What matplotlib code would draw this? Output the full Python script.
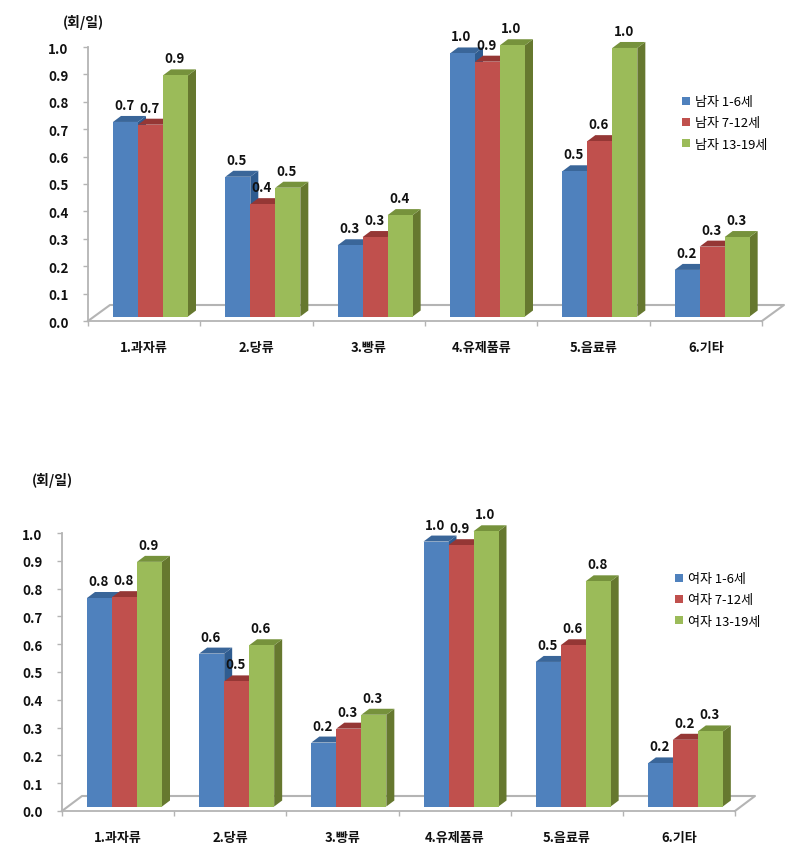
import matplotlib
matplotlib.use("Agg")
import matplotlib.pyplot as plt
from matplotlib.patches import Polygon, Patch

plt.rcParams['font.family'] = ['Noto Sans CJK KR', 'DejaVu Sans']

categories = ['1.과자류', '2.당류', '3.빵류', '4.유제품류', '5.음료류', '6.기타']
yticks = [0.0, 0.1, 0.2, 0.3, 0.4, 0.5, 0.6, 0.7, 0.8, 0.9, 1.0]
unit = '(회/일)'

male_labels = ['남자 1-6세', '남자 7-12세', '남자 13-19세']
male_young = [0.71, 0.51, 0.26, 0.96, 0.53, 0.17]
male_mid = [0.70, 0.41, 0.29, 0.93, 0.64, 0.255]
male_old = [0.88, 0.47, 0.37, 0.99, 0.98, 0.29]

female_labels = ['여자 1-6세', '여자 7-12세', '여자 13-19세']
female_young = [0.75, 0.55, 0.23, 0.953, 0.52, 0.155]
female_mid = [0.753, 0.45, 0.28, 0.94, 0.58, 0.24]
female_old = [0.88, 0.58, 0.33, 0.99, 0.81, 0.27]

front = ['#4F81BD', '#C0504D', '#9BBB59']
top_c = ['#3A6699', '#953735', '#76923C']
side_c = ['#2F5C90', '#8A3330', '#66782F']
GRID = '#B4B4B4'
W, H = 796, 853
fig = plt.figure(figsize=(W / 100, H / 100), dpi=100, facecolor='white')


def chart(left, right, y_top, y_zero, base_px, floor_dx, floor_dy, series, labels,
          legend_xy, unit_xy):
    ax = fig.add_axes([left / W, 1 - y_zero / H, (right - left) / W, (y_zero - y_top) / H])
    ax.set_xlim(0, 6)
    ax.set_ylim(0, 1)
    ax.patch.set_alpha(0)
    sx = 6 / (right - left)      # data units per pixel
    sy = 1 / (y_zero - y_top)
    base = base_px * sy
    bw = 25 * sx
    x0 = 25 * sx
    dx, dy = 8 * sx, 6 * sy

    # floor of the 3D plane
    fx, fy = floor_dx * sx, floor_dy * sy
    ax.plot([0, fx, 6 + fx, 6], [0, fy, fy, 0], color=GRID, lw=1.5, clip_on=False, zorder=1)

    handles = []
    for s, vals in enumerate(series):
        for i, v in enumerate(vals):
            xl = i + x0 + s * bw
            xr = xl + bw
            top = base + v
            z = 3 + s
            ax.add_patch(Polygon([(xr, base), (xr + dx, base + dy), (xr + dx, top + dy), (xr, top)],
                                 closed=True, fc=side_c[s], ec='none', clip_on=False, zorder=z))
            ax.add_patch(Polygon([(xl, top), (xl + dx, top + dy), (xr + dx, top + dy), (xr, top)],
                                 closed=True, fc=top_c[s], ec='none', clip_on=False, zorder=z))
            ax.bar(xl, v, bw, bottom=base, align='edge', color=front[s], zorder=z + 0.5, clip_on=False)
            ax.text(xl + bw / 2 - sx, top + 17 * sy, f'{v:.1f}', ha='center', va='center',
                    fontsize=9.6, fontweight='bold', color='#111111', zorder=10, clip_on=False)
        handles.append(Patch(fc=front[s], ec='none', label=labels[s]))

    for sp in ('top', 'right'):
        ax.spines[sp].set_visible(False)
    for sp in ('left', 'bottom'):
        ax.spines[sp].set_color(GRID)
        ax.spines[sp].set_linewidth(1.3)
    ax.set_yticks(yticks)
    ax.set_yticklabels([f'{t:.1f}' for t in yticks], fontsize=9.6, fontweight='bold', color='#111111')
    ax.tick_params(axis='y', length=3.6, width=1, color=GRID, pad=10.5)
    ax.set_xticks(range(7))
    ax.set_xticklabels([''] * 7)
    ax.tick_params(axis='x', length=3.6, width=1, color=GRID)
    for i, c in enumerate(categories):
        ax.text(i + 0.5, -26 * sy, c, ha='center', va='center', fontsize=9.4, fontweight='bold',
                color='#111111', clip_on=False)

    ax.legend(handles=handles, loc='center left',
              bbox_to_anchor=(legend_xy[0] / W, 1 - legend_xy[1] / H), bbox_transform=fig.transFigure,
              frameon=False, fontsize=9.4, handlelength=0.6, handleheight=0.6, handletextpad=0.4,
              labelspacing=0.62, borderpad=0, borderaxespad=0)
    fig.text(unit_xy[0] / W, 1 - unit_xy[1] / H, unit, ha='center', va='center', fontsize=10,
             fontweight='bold', color='#111111')


chart(88, 762, 48, 322, 4.5, 22, 16, [male_young, male_mid, male_old], male_labels, (682, 124), (83, 22))
chart(62, 735, 534, 812, 4.5, 20, 15, [female_young, female_mid, female_old], female_labels, (675, 601), (52, 481))

fig.savefig('out.png', dpi=100, facecolor='white')
